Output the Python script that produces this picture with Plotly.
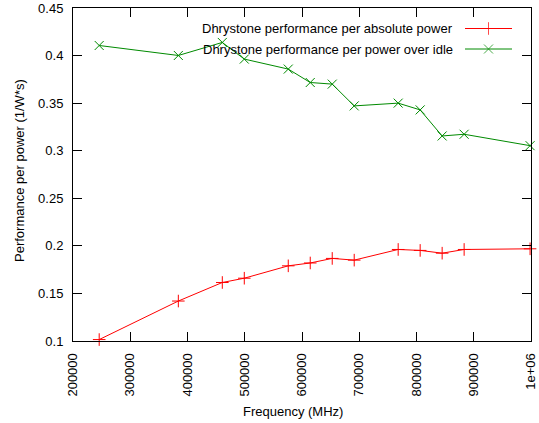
import plotly.graph_objects as go

freq = [245760, 384000, 460800, 499200, 576000, 614400, 652800, 691200, 768000, 806400, 844800, 883200, 998400]
perf_abs = [0.1015, 0.142, 0.1615, 0.166, 0.179, 0.182, 0.1868, 0.185, 0.1962, 0.1952, 0.1923, 0.1962, 0.1969]
perf_idle = [0.4106, 0.4001, 0.4138, 0.3963, 0.3858, 0.3717, 0.370, 0.3471, 0.350, 0.3429, 0.3155, 0.3173, 0.3053]
names = ["Dhrystone performance per absolute power", "Dhrystone performance per power over idle"]
x_ticks = [200000, 300000, 400000, 500000, 600000, 700000, 800000, 900000, 1000000]
x_ticktext = ["200000", "300000", "400000", "500000", "600000", "700000", "800000", "900000", "1e+06"]
y_ticks = [0.1, 0.15, 0.2, 0.25, 0.3, 0.35, 0.4, 0.45]
y_ticktext = ["0.1", "0.15", "0.2", "0.25", "0.3", "0.35", "0.4", "0.45"]

RED = "#ff0000"
GREEN = "#008a00"
FONT = "Liberation Sans, Arial, sans-serif"
FS = 13

W, H = 539, 423
L, R, T, B = 73, 8, 8, 82
pw, ph = W - L - R, H - T - B

def px(x):
    return (x - L) / pw

def py(y):
    return (H - B - y) / ph

fig = go.Figure()
fig.add_trace(go.Scatter(x=freq, y=perf_abs, mode="lines+markers", name=names[0],
                         line=dict(color=RED, width=1),
                         marker=dict(symbol="cross-thin", size=9, line=dict(color=RED, width=1)),
                         cliponaxis=False, showlegend=False))
fig.add_trace(go.Scatter(x=freq, y=perf_idle, mode="lines+markers", name=names[1],
                         line=dict(color=GREEN, width=1),
                         marker=dict(symbol="x-thin", size=9, line=dict(color=GREEN, width=1)),
                         cliponaxis=False, showlegend=False))

# legend samples on an overlay axis in plot-fraction coordinates
rows = [py(28.5), py(49)]
x0, x1 = px(465), px(512)
for i, (col, sym) in enumerate([(RED, "cross-thin"), (GREEN, "x-thin")]):
    fig.add_trace(go.Scatter(x=[x0, (x0 + x1) / 2, x1], y=[rows[i]] * 3, mode="lines+markers",
                             line=dict(color=col, width=1),
                             marker=dict(symbol=sym, size=[0, 9, 0], line=dict(color=col, width=1)),
                             xaxis="x2", yaxis="y2", showlegend=False, hoverinfo="skip"))
    fig.add_annotation(x=px(455), y=rows[i], xref="paper", yref="paper", text=names[i],
                       showarrow=False, xanchor="right", yanchor="middle",
                       font=dict(family=FONT, size=FS, color="black"))

fig.add_annotation(x=px(292.5), y=py(411), xref="paper", yref="paper", text="Frequency (MHz)",
                   showarrow=False, xanchor="center", yanchor="middle",
                   font=dict(family=FONT, size=FS, color="black"))
fig.add_annotation(x=px(19), y=py(171), xref="paper", yref="paper", text="Performance per power (1/W*s)",
                   showarrow=False, xanchor="center", yanchor="middle", textangle=-90,
                   font=dict(family=FONT, size=FS, color="black"))

axis_common = dict(showgrid=False, zeroline=False, showline=True, linecolor="black", linewidth=1,
                   mirror="allticks", ticks="inside", ticklen=9, tickcolor="black", tickwidth=1,
                   automargin=False, tickfont=dict(family=FONT, size=FS, color="black"))
fig.update_layout(
    width=W, height=H,
    margin=dict(l=L, r=R, t=T, b=B),
    paper_bgcolor="white", plot_bgcolor="white",
    xaxis=dict(range=[200000, 1000000], tickvals=x_ticks, ticktext=x_ticktext, tickangle=-90,
               ticklabelstandoff=6, **axis_common),
    yaxis=dict(range=[0.1, 0.45], tickvals=y_ticks, ticktext=y_ticktext, ticklabelstandoff=6, **axis_common),
    xaxis2=dict(range=[0, 1], overlaying="x", visible=False),
    yaxis2=dict(range=[0, 1], overlaying="y", visible=False),
    showlegend=False,
)

fig.write_html("out.html")
